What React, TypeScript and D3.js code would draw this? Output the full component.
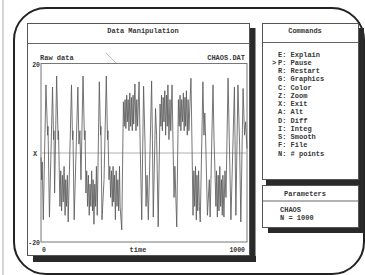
import React from 'react';
import * as d3 from 'd3';

// Raw data: Lorenz "CHAOS.DAT" X vs time (turning points)
const chaosX: [number, number][] = [
  [0, -1], [3, -6], [6, -2], [11, -15], [24, 15.3], [32, 4], [34, 6], [41, -14.4],
  [56, 14.8], [61, 3], [63, 5], [66, -9], [76, 17.3], [83, 3], [85, 5], [92, -12],
  [96, -4], [100, -13], [104, -5], [108, -11], [112, -3], [117, -14], [120, -6], [124, -12],
  [128, -5], [132, -15.5], [148, 15.3], [153, 3], [155, 5], [161, -15], [179, 14.8], [184, 2],
  [189, 5], [194, -6], [204, 17.3], [211, 3], [214, 5], [218, -9], [222, -4], [226, -12],
  [230, -5], [234, -14], [238, -7], [242, -12], [246, -4], [250, -13], [253, -6], [257, -16],
  [261, -7], [265, -12], [269, -3], [273, -14], [283, 16], [289, 4], [291, 6], [296, -15],
  [306, -6], [317, 17.3], [323, 3], [325, 5], [330, -6], [334, -3], [338, -10], [342, -4],
  [346, -12], [350, -3], [353, -11], [357, -5], [361, -15], [365, -4], [369, -12], [373, -6],
  [377, -13], [381, -3], [384, -12], [392, -17.3], [400, 11.5], [404, 6], [408, 12], [412, 5.5],
  [416, 13], [419, 7], [423, 12], [427, 5], [431, 13.5], [435, 6], [439, 12.5], [443, 5],
  [447, 13], [450, 6.5], [456, 15.5], [461, 5], [465, 12], [469, 6], [476, 16], [481, 3],
  [489, -15], [498, 15], [505, 2], [510, -12], [515, -5], [521, -15], [527, -4], [537, 16.2],
  [541, 3], [545, -14.4], [556, 10], [561, 4], [569, -16.6], [578, 11], [582, 6], [585, 13],
  [589, 5], [593, 12.5], [597, 7], [601, 14], [605, 4], [609, 13], [613, 6], [616, 15.3],
  [621, 3], [626, 12], [630, 5], [636, 15.3], [641, 2], [646, -10], [650, -3], [659, -16.6],
  [667, 12], [671, 6], [675, 13], [679, 5], [683, 12], [687, 7], [691, 13.5], [695, 5],
  [699, 12.5], [702, 6], [706, 14], [710, 4], [714, 12], [718, 5], [728, 16.8], [733, 2],
  [738, -14], [742, -4], [746, -12], [750, -3], [754, -15], [757, -5], [761, -13], [765, -4],
  [769, -12], [773, -15.5], [786, 16], [791, 4], [795, 9], [799, 3.5], [808, -14], [817, -6],
  [821, -14.4], [835, 15.3], [840, 3], [845, -5], [849, -12], [852, -4], [856, -14.4], [860, -5],
  [864, -13], [868, -3], [872, -12], [876, -6], [880, -14], [883, -5], [888, -14.4], [893, -4],
  [898, -10], [908, 16.8], [914, 3], [922, -15], [939, 14.8], [946, -14], [956, 15.3], [964, 2],
  [970, -15.5], [981, 14.5], [988, 4], [993, 7], [1000, 1],
];

const yTickValues = [20, -20];
const xTickValues = [0, 1000];
const yAxisName = 'X';
const xAxisName = 'time';
const plotTitle = 'Data Manipulation';
const seriesName = 'Raw data';
const fileName = 'CHAOS.DAT';
const commandsTitle = 'Commands';
const commands = [
  'E: Explain', 'P: Pause', 'R: Restart', 'G: Graphics', 'C: Color', 'Z: Zoom', 'X: Exit',
  'A: Alt', 'D: Diff', 'I: Integ', 'S: Smooth', 'F: File', 'N: # points',
];
const selectedCommand = 1;
const paramsTitle = 'Parameters';
const params = ['CHAOS', 'N = 1000'];

const FONT = '"Liberation Mono", "DejaVu Sans Mono", monospace';
const TXT = '#383838';
const SHADOW = '#2a2a2a';

export default function App() {
  const x = d3.scaleLinear().domain([0, 1000]).range([41, 247]);
  const y = d3.scaleLinear().domain([-20, 20]).range([242, 64]);
  const line = d3.line<[number, number]>().x(d => x(d[0])).y(d => y(d[1]));
  const t = (props: any) => ({ fontFamily: FONT, fontSize: 7, fontWeight: 'bold', fill: TXT, ...props });

  return (
    <svg width={365} height={275} style={{ position: 'absolute', left: 0, top: 0, background: '#fff' }}>
      <rect x={0} y={0} width={365} height={275} fill="#fff" />
      {/* scan edge */}
      <line x1={3} y1={0} x2={3} y2={275} stroke="#c8c8c8" strokeWidth={1.5} />
      {/* rounded outer frame */}
      <rect x={14} y={8} width={350} height={266} rx={32} ry={32} fill="none" stroke="#222" strokeWidth={2} />

      {/* Left window shadow */}
      <rect x={249.5} y={28} width={6} height={234} fill={SHADOW} />
      <rect x={33} y={256} width={223} height={6} fill={SHADOW} />
      {/* Left window */}
      <rect x={27.5} y={23.5} width={222} height={232} fill="#fff" stroke="#555" strokeWidth={1} />
      <line x1={27.5} y1={43.5} x2={249.5} y2={43.5} stroke="#666" strokeWidth={1} />
      <text {...t({ x: 143, y: 33, textAnchor: 'middle' })}>{plotTitle}</text>
      <text {...t({ x: 40, y: 59.5 })}>{seriesName}</text>
      <text {...t({ x: 245, y: 59.5, textAnchor: 'end' })}>{fileName}</text>
      <line x1={106} y1={53} x2={116} y2={63} stroke="#aaa" strokeWidth={0.8} />

      {/* plot frame */}
      <rect x={41} y={63.5} width={206} height={178.5} fill="none" stroke="#777" strokeWidth={1} />
      <line x1={41} y1={y(0)} x2={247} y2={y(0)} stroke="#b0b0b0" strokeWidth={1} />
      <path d={line(chaosX) || ''} fill="none" stroke="#5c5c5c" strokeWidth={0.85} />

      {yTickValues.map(v => (
        <text key={v} {...t({ x: 40, y: y(v) + 2.5, textAnchor: 'end', fontSize: 6.5 })}>{v}</text>
      ))}
      <text {...t({ x: 35, y: y(0) + 2.5, textAnchor: 'middle' })}>{yAxisName}</text>
      {xTickValues.map((v, i) => (
        <text key={v} {...t({ x: i === 0 ? x(v) + 3 : x(v) - 2, y: 251.5, textAnchor: i === 0 ? 'middle' : 'end', fontSize: 6.5 })}>{v}</text>
      ))}
      <text {...t({ x: 138, y: 251.5, textAnchor: 'middle' })}>{xAxisName}</text>

      {/* Commands window shadow */}
      <rect x={358.5} y={28} width={5.5} height={157} fill={SHADOW} />
      <rect x={266} y={179.5} width={98} height={5.5} fill={SHADOW} />
      {/* Commands window */}
      <rect x={262.5} y={23.5} width={96} height={156} fill="#fff" stroke="#555" strokeWidth={1} />
      <line x1={262.5} y1={42.5} x2={358.5} y2={42.5} stroke="#666" strokeWidth={1} />
      <text {...t({ x: 305, y: 32.5, textAnchor: 'middle' })}>{commandsTitle}</text>
      {commands.map((c, i) => (
        <text key={c} {...t({ x: 278, y: 56.5 + i * 8.25 })}>{c}</text>
      ))}
      <text {...t({ x: 272, y: 56.5 + selectedCommand * 8.25 })}>{'>'}</text>

      {/* Parameters window shadow */}
      <rect x={358.5} y={185} width={5.5} height={48} fill={SHADOW} />
      <rect x={268} y={227.5} width={96} height={5.5} fill={SHADOW} />
      {/* Parameters window */}
      <rect x={262.5} y={185.5} width={96} height={42} fill="#fff" stroke="#555" strokeWidth={1} />
      <line x1={262.5} y1={201} x2={358.5} y2={201} stroke="#666" strokeWidth={1} />
      <text {...t({ x: 305, y: 195.5, textAnchor: 'middle' })}>{paramsTitle}</text>
      {params.map((p, i) => (
        <text key={p} {...t({ x: 280, y: 211.5 + i * 8 })}>{p}</text>
      ))}
    </svg>
  );
}
